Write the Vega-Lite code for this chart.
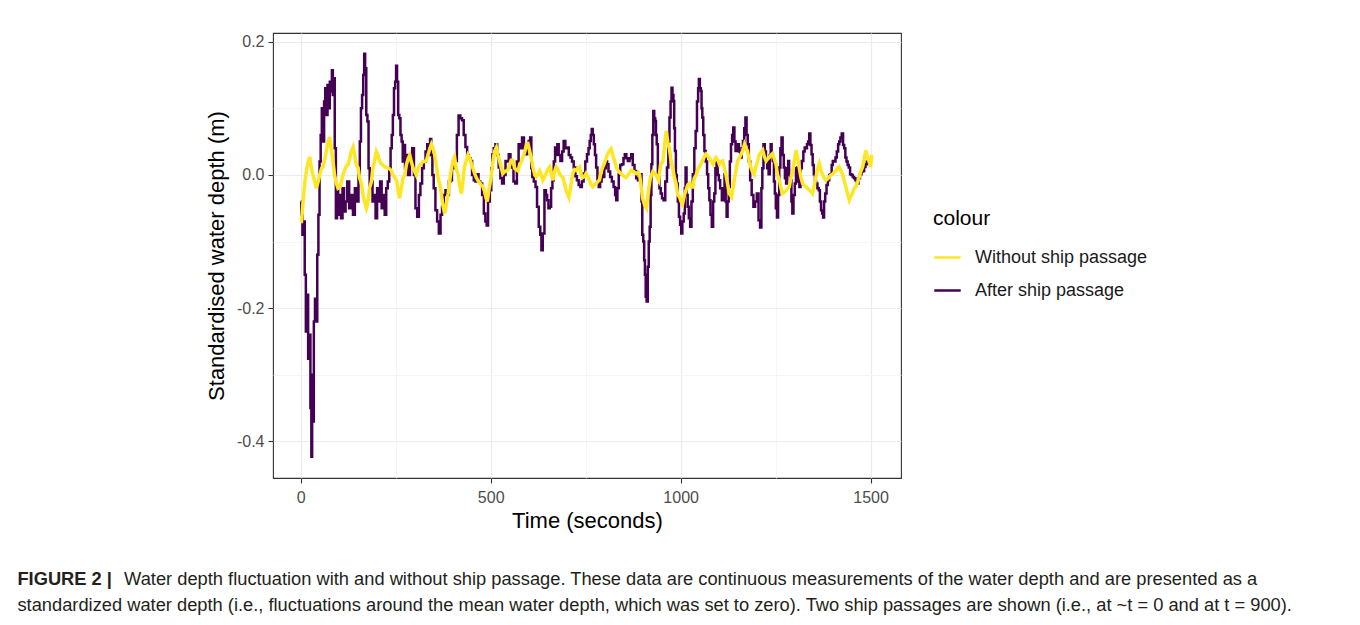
{
  "$schema": "https://vega.github.io/schema/vega-lite/v6.json",
  "width": 628,
  "height": 445,
  "padding": {"left": 17, "top": 33, "right": 10, "bottom": 5},
  "background": "#ffffff",
  "title": {
    "text": "FIGURE 2 |",
    "subtitle": [
      "\u200b\u00a0\u00a0\u00a0\u00a0\u00a0\u00a0\u00a0\u00a0\u00a0\u00a0\u00a0\u00a0\u00a0\u00a0\u00a0\u00a0\u00a0\u00a0\u00a0\u00a0\u00a0Water depth fluctuation with and without ship passage. These data are continuous measurements of the water depth and are presented as a",
      "standardized water depth (i.e., fluctuations around the mean water depth, which was set to zero). Two ship passages are shown (i.e., at ~t = 0 and at t = 900)."
    ],
    "orient": "bottom",
    "anchor": "start",
    "frame": "bounds",
    "dx": -188,
    "offset": 40,
    "font": "Liberation Sans",
    "fontSize": 18.3,
    "fontWeight": "bold",
    "color": "#231F20",
    "subtitleFont": "Liberation Sans",
    "subtitleFontSize": 18.3,
    "subtitleFontWeight": "normal",
    "subtitleColor": "#231F20",
    "subtitlePadding": -18.3,
    "subtitleLineHeight": 26
  },
  "datasets": {
    "after": [
      {"t":0,"v":-0.04},{"t":3,"v":-0.06},{"t":6,"v":-0.09},{"t":9,"v":-0.07},{"t":12,"v":-0.15},{"t":15,"v":-0.235},{"t":18,"v":-0.18},{"t":21,"v":-0.276},{"t":24,"v":-0.24},{"t":27,"v":-0.35},{"t":29,"v":-0.423},{"t":31,"v":-0.3},{"t":33,"v":-0.37},{"t":36,"v":-0.22},{"t":39,"v":-0.186},{"t":42,"v":-0.22},{"t":45,"v":-0.12},{"t":48,"v":-0.06},{"t":51,"v":0.02},{"t":54,"v":0.06},{"t":57,"v":0.1},{"t":60,"v":0.05},{"t":63,"v":0.11},{"t":66,"v":0.13},{"t":69,"v":0.09},{"t":72,"v":0.135},{"t":75,"v":0.1},{"t":78,"v":0.14},{"t":81,"v":0.125},{"t":83,"v":0.157},{"t":86,"v":0.12},{"t":88,"v":0.145},{"t":91,"v":0.04},{"t":94,"v":-0.065},{"t":97,"v":-0.02},{"t":100,"v":-0.06},{"t":104,"v":-0.03},{"t":108,"v":-0.065},{"t":112,"v":-0.02},{"t":116,"v":-0.055},{"t":120,"v":-0.04},{"t":125,"v":-0.01},{"t":130,"v":-0.05},{"t":135,"v":-0.03},{"t":140,"v":-0.06},{"t":145,"v":-0.02},{"t":150,"v":-0.04},{"t":154,"v":0},{"t":157,"v":0.05},{"t":160,"v":0.1},{"t":163,"v":0.12},{"t":166,"v":0.15},{"t":168,"v":0.182},{"t":171,"v":0.16},{"t":174,"v":0.09},{"t":177,"v":0.08},{"t":180,"v":0.01},{"t":183,"v":-0.02},{"t":187,"v":-0.01},{"t":191,"v":-0.04},{"t":195,"v":-0.03},{"t":199,"v":-0.065},{"t":203,"v":-0.02},{"t":207,"v":-0.04},{"t":211,"v":-0.01},{"t":215,"v":-0.05},{"t":219,"v":-0.03},{"t":223,"v":-0.06},{"t":227,"v":-0.02},{"t":231,"v":-0.01},{"t":235,"v":0.01},{"t":238,"v":0.04},{"t":241,"v":0.06},{"t":244,"v":0.09},{"t":247,"v":0.13},{"t":250,"v":0.14},{"t":252,"v":0.164},{"t":255,"v":0.14},{"t":258,"v":0.09},{"t":261,"v":0.085},{"t":264,"v":0.06},{"t":267,"v":0.05},{"t":270,"v":0.02},{"t":273,"v":0.045},{"t":276,"v":0.01},{"t":280,"v":0.03},{"t":284,"v":0},
      {"t":291,"v":0.02},{"t":296,"v":0.04},{"t":300,"v":0},{"t":304,"v":-0.05},{"t":309,"v":-0.063},{"t":313,"v":-0.03},{"t":317,"v":-0.013},{"t":322,"v":0.01},{"t":326,"v":0.02},{"t":331,"v":0.035},{"t":335,"v":0.046},{"t":339,"v":0.03},{"t":342,"v":0.054},{"t":345,"v":0.03},{"t":348,"v":0},{"t":352,"v":-0.02},{"t":357,"v":-0.053},{"t":361,"v":-0.07},{"t":366,"v":-0.088},{"t":370,"v":-0.06},{"t":374,"v":-0.048},{"t":379,"v":-0.03},{"t":383,"v":-0.023},{"t":388,"v":-0.03},{"t":392,"v":-0.01},{"t":396,"v":-0.008},{"t":400,"v":0.01},{"t":405,"v":0.02},{"t":409,"v":0.021},{"t":413,"v":0.06},{"t":418,"v":0.089},{"t":422,"v":0.085},{"t":427,"v":0.082},{"t":431,"v":0.06},{"t":436,"v":0.042},{"t":440,"v":0.03},{"t":445,"v":0.025},{"t":449,"v":0.021},{"t":453,"v":0},{"t":458,"v":-0.008},{"t":462,"v":-0.01},{"t":466,"v":0.001},{"t":470,"v":-0.01},{"t":475,"v":-0.013},{"t":480,"v":-0.03},{"t":484,"v":-0.058},{"t":488,"v":-0.07},{"t":491,"v":-0.076},{"t":495,"v":-0.04},{"t":500,"v":-0.023},{"t":503,"v":0.01},{"t":506,"v":0.031},{"t":510,"v":0.04},{"t":515,"v":0.046},{"t":519,"v":0.03},{"t":523,"v":0.011},{"t":528,"v":-0.005},{"t":532,"v":-0.013},{"t":537,"v":0},{"t":541,"v":0.021},{"t":545,"v":0.02},{"t":550,"v":0.031},{"t":554,"v":0.02},{"t":558,"v":0.011},{"t":562,"v":-0.01},{"t":567,"v":-0.013},{"t":571,"v":0.02},{"t":576,"v":0.046},{"t":580,"v":0.04},{"t":585,"v":0.056},{"t":590,"v":0.04},{"t":594,"v":0.031},{"t":598,"v":0.04},{"t":602,"v":0.051},
      {"t":606,"v":0.056},{"t":608,"v":0.01},{"t":611,"v":-0.003},{"t":616,"v":-0.01},{"t":620,"v":-0.018},{"t":624,"v":-0.048},{"t":629,"v":-0.078},{"t":632,"v":-0.09},{"t":635,"v":-0.113},{"t":639,"v":-0.088},{"t":644,"v":-0.023},{"t":647,"v":-0.03},{"t":650,"v":-0.038},{"t":654,"v":-0.05},{"t":657,"v":-0.048},{"t":661,"v":-0.02},{"t":664,"v":-0.008},{"t":668,"v":0.02},{"t":671,"v":0.041},{"t":674,"v":0.03},{"t":677,"v":0.046},{"t":681,"v":0.03},{"t":686,"v":0.021},{"t":690,"v":0.035},{"t":694,"v":0.051},{"t":699,"v":0.04},{"t":703,"v":0.041},{"t":708,"v":0.03},{"t":712,"v":0.026},{"t":716,"v":0.02},{"t":721,"v":0.011},{"t":725,"v":-0.002},{"t":729,"v":-0.008},{"t":734,"v":-0.015},{"t":738,"v":-0.018},{"t":742,"v":-0.01},{"t":747,"v":0.002},{"t":751,"v":0.02},{"t":756,"v":0.031},{"t":759,"v":0.04},{"t":762,"v":0.051},{"t":765,"v":0.06},{"t":767,"v":0.069},{"t":770,"v":0.06},{"t":773,"v":0.046},{"t":776,"v":0.03},{"t":779,"v":0.011},{"t":783,"v":-0.01},{"t":786,"v":-0.018},{"t":790,"v":-0.01},{"t":794,"v":0},{"t":797,"v":-0.003},{"t":801,"v":0.01},{"t":805,"v":0.02},{"t":808,"v":0.016},{"t":812,"v":0.005},{"t":817,"v":-0.003},{"t":821,"v":-0.01},{"t":826,"v":-0.018},{"t":829,"v":-0.03},{"t":832,"v":-0.038},{"t":835,"v":-0.02},{"t":839,"v":0.001},{"t":843,"v":0.015},{"t":848,"v":0.016},{"t":851,"v":0.025},{"t":855,"v":0.031},{"t":859,"v":0.025},{"t":863,"v":0.021},{"t":868,"v":0.025},{"t":872,"v":0.031},{"t":876,"v":0.015},{"t":881,"v":0.006},{"t":885,"v":-0.005},{"t":890,"v":-0.008},{"t":893,"v":0},{"t":896,"v":0.001},
      {"t":898,"v":-0.04},{"t":900,"v":-0.09},{"t":903,"v":-0.1},{"t":905,"v":-0.128},{"t":907,"v":-0.15},{"t":909,"v":-0.183},{"t":912,"v":-0.19},{"t":915,"v":-0.138},{"t":917,"v":-0.1},{"t":920,"v":-0.078},{"t":922,"v":-0.03},{"t":924,"v":0.016},{"t":927,"v":0.06},{"t":929,"v":0.096},{"t":932,"v":0.085},{"t":934,"v":0.081},{"t":936,"v":0.06},{"t":938,"v":0.046},{"t":942,"v":0.002},{"t":946,"v":-0.02},{"t":949,"v":-0.028},{"t":953,"v":-0.035},{"t":957,"v":-0.038},{"t":962,"v":-0.01},{"t":966,"v":0.011},{"t":969,"v":0.05},{"t":972,"v":0.086},{"t":975,"v":0.11},{"t":977,"v":0.131},{"t":980,"v":0.12},{"t":982,"v":0.111},{"t":984,"v":0.07},{"t":986,"v":0.036},{"t":989,"v":0},{"t":991,"v":-0.013},{"t":994,"v":-0.04},{"t":997,"v":-0.063},{"t":1000,"v":-0.075},{"t":1003,"v":-0.088},{"t":1006,"v":-0.07},{"t":1010,"v":-0.058},{"t":1012,"v":-0.02},{"t":1014,"v":0.011},{"t":1017,"v":-0.03},{"t":1020,"v":-0.048},{"t":1023,"v":-0.065},{"t":1027,"v":-0.078},{"t":1030,"v":-0.04},{"t":1034,"v":0.001},{"t":1038,"v":0.04},{"t":1041,"v":0.066},{"t":1045,"v":0.11},{"t":1047,"v":0.13},{"t":1049,"v":0.144},{"t":1052,"v":0.13},{"t":1054,"v":0.126},{"t":1056,"v":0.1},{"t":1058,"v":0.086},{"t":1061,"v":0.06},{"t":1064,"v":0.036},{"t":1068,"v":0.02},{"t":1071,"v":0.001},{"t":1074,"v":-0.02},{"t":1077,"v":-0.038},{"t":1080,"v":-0.06},{"t":1084,"v":-0.078},{"t":1087,"v":-0.04},{"t":1090,"v":-0.028},{"t":1093,"v":0.01},{"t":1096,"v":0.021},{"t":1099,"v":0},{"t":1102,"v":-0.008},{"t":1106,"v":-0.02},{"t":1111,"v":-0.038},{"t":1114,"v":-0.02},{"t":1117,"v":0.001},{"t":1120,"v":-0.04},{"t":1122,"v":-0.063},{"t":1125,"v":-0.04},{"t":1128,"v":-0.018},{"t":1131,"v":0.02},{"t":1134,"v":0.046},{"t":1137,"v":0.06},{"t":1140,"v":0.071},{"t":1143,"v":0.05},{"t":1146,"v":0.036},{"t":1149,"v":0.04},{"t":1152,"v":0.046},{"t":1155,"v":0.035},{"t":1159,"v":0.026},{"t":1162,"v":0.04},{"t":1166,"v":0.051},{"t":1169,"v":0.07},{"t":1172,"v":0.086},{"t":1175,"v":0.06},{"t":1178,"v":0.046},{"t":1181,"v":0.02},{"t":1185,"v":-0.008},{"t":1189,"v":-0.03},{"t":1194,"v":-0.048},{"t":1198,"v":-0.04},{"t":1203,"v":-0.028},{"t":1207,"v":-0.068},{"t":1211,"v":-0.079},{"t":1214,"v":-0.02},{"t":1216,"v":0.01},{"t":1220,"v":0.046},{"t":1223,"v":0.035},{"t":1226,"v":0.021},{"t":1230,"v":0.01},{"t":1233,"v":0.001},{"t":1236,"v":0.03},{"t":1238,"v":0.046},{"t":1241,"v":0.03},{"t":1244,"v":0.021},{"t":1247,"v":-0.01},{"t":1249,"v":-0.028},{"t":1252,"v":-0.05},{"t":1255,"v":-0.064},{"t":1258,"v":-0.03},{"t":1261,"v":0.011},{"t":1264,"v":0.04},{"t":1267,"v":0.056},{"t":1270,"v":0.03},{"t":1273,"v":0.011},{"t":1276,"v":-0.005},{"t":1279,"v":-0.013},{"t":1282,"v":0.01},{"t":1284,"v":0.021},{"t":1287,"v":0},{"t":1290,"v":-0.008},{"t":1293,"v":-0.04},{"t":1295,"v":-0.058},{"t":1299,"v":-0.03},{"t":1302,"v":-0.013},{"t":1305,"v":0.01},{"t":1308,"v":0.011},{"t":1311,"v":-0.01},{"t":1314,"v":-0.018},{"t":1317,"v":0.01},{"t":1321,"v":0.021},{"t":1325,"v":0.035},{"t":1328,"v":0.041},{"t":1331,"v":0.04},{"t":1334,"v":0.046},{"t":1337,"v":0.05},{"t":1340,"v":0.062},{"t":1343,"v":0.045},{"t":1346,"v":0.031},{"t":1349,"v":0.015},{"t":1352,"v":0.001},{"t":1355,"v":-0.01},{"t":1358,"v":-0.013},{"t":1362,"v":-0.02},{"t":1365,"v":-0.023},{"t":1368,"v":-0.04},{"t":1371,"v":-0.053},{"t":1374,"v":-0.058},{"t":1376,"v":-0.064},{"t":1379,"v":-0.04},{"t":1382,"v":-0.028},{"t":1386,"v":-0.015},{"t":1389,"v":-0.008},{"t":1393,"v":0},{"t":1396,"v":0.001},{"t":1399,"v":0.015},{"t":1402,"v":0.021},{"t":1406,"v":0.02},{"t":1409,"v":0.026},{"t":1413,"v":0.035},{"t":1416,"v":0.046},{"t":1419,"v":0.05},{"t":1422,"v":0.056},{"t":1426,"v":0.062},{"t":1429,"v":0.045},{"t":1432,"v":0.04},{"t":1435,"v":0.026},{"t":1438,"v":0.02},{"t":1441,"v":0.015},{"t":1444,"v":0.011},{"t":1448,"v":0.001},{"t":1451,"v":0},{"t":1455,"v":-0.003},{"t":1458,"v":-0.005},{"t":1462,"v":-0.008},{"t":1466,"v":-0.013},{"t":1470,"v":-0.005},{"t":1474,"v":0.001},{"t":1478,"v":0.005},{"t":1481,"v":0.006},{"t":1485,"v":0.012},{"t":1488,"v":0.016},{"t":1492,"v":0.02},{"t":1496,"v":0.021},{"t":1500,"v":0.016}
    ],
    "without": [
      {"t":0,"v":-0.07},{"t":2,"v":-0.07},{"t":6,"v":-0.04},{"t":11,"v":-0.01},{"t":16,"v":0.01},{"t":20,"v":0.02},{"t":24,"v":0.027},{"t":28,"v":0.01},{"t":32,"v":0},{"t":37,"v":-0.01},{"t":41,"v":-0.02},{"t":46,"v":-0.01},{"t":50,"v":0},{"t":55,"v":0.01},{"t":59,"v":0.012},{"t":64,"v":0.025},{"t":68,"v":0.037},{"t":72,"v":0.05},{"t":76,"v":0.057},{"t":80,"v":0.04},{"t":85,"v":0.02},{"t":89,"v":0},{"t":94,"v":-0.013},{"t":98,"v":-0.02},{"t":103,"v":-0.018},{"t":107,"v":-0.01},{"t":111,"v":0},{"t":116,"v":0.008},{"t":120,"v":0.013},{"t":125,"v":0.016},{"t":129,"v":0.025},{"t":133,"v":0.035},{"t":138,"v":0.042},{"t":142,"v":0.03},{"t":146,"v":0.015},{"t":151,"v":0.011},{"t":155,"v":-0.005},{"t":160,"v":-0.014},{"t":164,"v":-0.03},{"t":168,"v":-0.04},{"t":173,"v":-0.05},{"t":177,"v":-0.041},{"t":181,"v":-0.02},{"t":186,"v":-0.01},{"t":190,"v":0.01},{"t":194,"v":0.02},{"t":199,"v":0.035},{"t":203,"v":0.03},{"t":208,"v":0.02},{"t":212,"v":0.017},{"t":216,"v":0.015},{"t":221,"v":0.012},{"t":225,"v":0.012},{"t":230,"v":0.01},{"t":234,"v":0.009},{"t":239,"v":0.006},{"t":243,"v":0},{"t":248,"v":-0.005},{"t":252,"v":-0.008},{"t":256,"v":-0.02},{"t":260,"v":-0.035},{"t":265,"v":-0.02},{"t":269,"v":-0.005},{"t":274,"v":0},{"t":278,"v":0.015},{"t":283,"v":0.025},{"t":287,"v":0.03},{"t":291,"v":0.02},
      {"t":296,"v":0.01},{"t":300,"v":0.005},{"t":304,"v":0},{"t":309,"v":0.01},{"t":313,"v":0.014},{"t":317,"v":0.017},{"t":322,"v":0.02},{"t":326,"v":0.02},{"t":331,"v":0.022},{"t":335,"v":0.03},{"t":340,"v":0.04},{"t":344,"v":0.046},{"t":348,"v":0.04},{"t":352,"v":0.032},{"t":357,"v":0.015},{"t":361,"v":-0.003},{"t":366,"v":-0.015},{"t":370,"v":-0.028},{"t":374,"v":-0.045},{"t":379,"v":-0.058},{"t":383,"v":-0.045},{"t":388,"v":-0.028},{"t":392,"v":-0.01},{"t":396,"v":0.007},{"t":400,"v":0.02},{"t":405,"v":0.027},{"t":409,"v":0.01},{"t":414,"v":0.002},{"t":418,"v":-0.015},{"t":423,"v":-0.028},{"t":427,"v":-0.01},{"t":431,"v":0.012},{"t":436,"v":0.022},{"t":440,"v":0.03},{"t":445,"v":0.025},{"t":449,"v":0.017},{"t":453,"v":0.01},{"t":458,"v":0.002},{"t":462,"v":-0.004},{"t":466,"v":-0.008},{"t":471,"v":-0.012},{"t":475,"v":-0.015},{"t":480,"v":-0.018},{"t":484,"v":-0.025},{"t":488,"v":-0.035},{"t":491,"v":-0.04},{"t":496,"v":-0.02},{"t":501,"v":-0.004},{"t":506,"v":0.02},{"t":510,"v":0.035},{"t":515,"v":0.041},{"t":519,"v":0.03},{"t":523,"v":0.022},{"t":528,"v":0.01},{"t":532,"v":0.002},{"t":537,"v":0.005},{"t":541,"v":0.006},{"t":545,"v":0.007},{"t":550,"v":0.015},{"t":554,"v":0.022},{"t":558,"v":0.022},{"t":563,"v":0.01},{"t":567,"v":0.008},{"t":572,"v":0.006},{"t":576,"v":0.015},{"t":581,"v":0.02},{"t":585,"v":0.027},{"t":590,"v":0.035},{"t":594,"v":0.046},{"t":598,"v":0.047},
      {"t":602,"v":0.037},{"t":607,"v":0.025},{"t":611,"v":0.012},{"t":616,"v":0},{"t":620,"v":-0.003},{"t":624,"v":0},{"t":629,"v":0.006},{"t":633,"v":0},{"t":637,"v":-0.008},{"t":642,"v":-0.003},{"t":646,"v":0.002},{"t":650,"v":0.008},{"t":655,"v":0.012},{"t":659,"v":0.002},{"t":664,"v":-0.008},{"t":668,"v":0.005},{"t":672,"v":0.012},{"t":677,"v":0.008},{"t":681,"v":0.002},{"t":686,"v":-0.002},{"t":690,"v":-0.004},{"t":694,"v":-0.012},{"t":699,"v":-0.024},{"t":703,"v":-0.03},{"t":706,"v":-0.034},{"t":710,"v":-0.02},{"t":716,"v":0.002},{"t":721,"v":0.008},{"t":725,"v":0.007},{"t":729,"v":0.01},{"t":734,"v":0.012},{"t":738,"v":0},{"t":742,"v":-0.004},{"t":747,"v":-0.002},{"t":751,"v":0.002},{"t":756,"v":-0.003},{"t":760,"v":-0.008},{"t":764,"v":-0.015},{"t":769,"v":-0.018},{"t":773,"v":-0.015},{"t":778,"v":-0.013},{"t":782,"v":-0.01},{"t":786,"v":-0.008},{"t":791,"v":0.005},{"t":795,"v":0.012},{"t":799,"v":0.017},{"t":804,"v":0.025},{"t":808,"v":0.032},{"t":813,"v":0.036},{"t":817,"v":0.039},{"t":822,"v":0.028},{"t":826,"v":0.022},{"t":830,"v":0.012},{"t":835,"v":0.007},{"t":839,"v":0.004},{"t":843,"v":0.002},{"t":850,"v":-0.002},{"t":856,"v":-0.004},{"t":863,"v":0.001},{"t":870,"v":0.007},{"t":876,"v":0.005},{"t":883,"v":0.002},{"t":888,"v":0.004},{"t":892,"v":0},{"t":900,"v":-0.035},{"t":905,"v":-0.045},{"t":910,"v":-0.05},{"t":915,"v":-0.025},{"t":920,"v":-0.005},{"t":927,"v":0.005},{"t":935,"v":0},{"t":942,"v":-0.008},{"t":947,"v":0.015},{"t":953,"v":0.02},{"t":958,"v":0.045},{"t":962,"v":0.066},{"t":966,"v":0.05},{"t":970,"v":0.04},{"t":975,"v":0.02},{"t":979,"v":0.01},{"t":984,"v":-0.005},{"t":988,"v":-0.013},{"t":992,"v":-0.03},{"t":997,"v":-0.033},{"t":1001,"v":-0.04},{"t":1005,"v":-0.044},{"t":1010,"v":-0.03},{"t":1014,"v":-0.023},{"t":1019,"v":-0.015},{"t":1023,"v":-0.013},{"t":1028,"v":-0.018},{"t":1032,"v":-0.018},{"t":1036,"v":-0.005},{"t":1041,"v":0},{"t":1045,"v":0.008},{"t":1049,"v":0.012},{"t":1054,"v":0.017},{"t":1058,"v":0.022},{"t":1063,"v":0.028},{"t":1067,"v":0.031},{"t":1071,"v":0.028},{"t":1076,"v":0.026},{"t":1080,"v":0.02},{"t":1085,"v":0.016},{"t":1089,"v":0.022},{"t":1093,"v":0.026},{"t":1098,"v":0.022},{"t":1102,"v":0.016},{"t":1107,"v":0.02},{"t":1111,"v":0.021},{"t":1115,"v":0.01},{"t":1119,"v":0.001},{"t":1124,"v":-0.015},{"t":1128,"v":-0.028},{"t":1134,"v":-0.033},{"t":1138,"v":-0.02},{"t":1141,"v":-0.008},{"t":1146,"v":0.008},{"t":1150,"v":0.021},{"t":1155,"v":0.026},{"t":1159,"v":0.031},{"t":1163,"v":0.036},{"t":1168,"v":0.046},{"t":1172,"v":0.04},{"t":1176,"v":0.036},{"t":1181,"v":0.02},{"t":1185,"v":0.011},{"t":1189,"v":0.005},{"t":1194,"v":0.001},{"t":1198,"v":0.012},{"t":1203,"v":0.021},
      {"t":1207,"v":0.031},{"t":1212,"v":0.034},{"t":1216,"v":0.037},{"t":1220,"v":0.028},{"t":1225,"v":0.021},{"t":1229,"v":0.024},{"t":1233,"v":0.026},{"t":1238,"v":0.03},{"t":1242,"v":0.032},{"t":1246,"v":0.025},{"t":1251,"v":0.016},{"t":1255,"v":0},{"t":1260,"v":-0.008},{"t":1264,"v":-0.02},{"t":1268,"v":-0.028},{"t":1273,"v":-0.026},{"t":1277,"v":-0.024},{"t":1282,"v":-0.02},{"t":1286,"v":-0.018},{"t":1290,"v":-0.005},{"t":1295,"v":0.006},{"t":1299,"v":0.02},{"t":1304,"v":0.037},{"t":1308,"v":0.025},{"t":1312,"v":0.011},{"t":1317,"v":-0.005},{"t":1321,"v":-0.013},{"t":1326,"v":-0.016},{"t":1330,"v":-0.018},{"t":1334,"v":-0.02},{"t":1339,"v":-0.023},{"t":1343,"v":-0.025},{"t":1347,"v":-0.028},{"t":1352,"v":-0.015},{"t":1356,"v":-0.003},{"t":1361,"v":0.01},{"t":1365,"v":0.017},{"t":1369,"v":0.008},{"t":1374,"v":0},{"t":1378,"v":-0.005},{"t":1382,"v":-0.008},{"t":1387,"v":-0.006},{"t":1391,"v":-0.003},{"t":1396,"v":0},{"t":1400,"v":0.001},{"t":1404,"v":0.004},{"t":1409,"v":0.006},{"t":1413,"v":0.01},{"t":1417,"v":0.012},{"t":1422,"v":0.006},{"t":1426,"v":0.001},{"t":1431,"v":-0.01},{"t":1435,"v":-0.018},{"t":1440,"v":-0.03},{"t":1444,"v":-0.038},{"t":1448,"v":-0.032},{"t":1452,"v":-0.028},{"t":1457,"v":-0.02},{"t":1461,"v":-0.018},{"t":1466,"v":-0.01},{"t":1470,"v":-0.003},{"t":1474,"v":0.005},{"t":1479,"v":0.012},{"t":1483,"v":0.025},{"t":1488,"v":0.037},{"t":1492,"v":0.025},{"t":1496,"v":0.02},{"t":1500,"v":0.012},{"t":1503,"v":0.03}
    ]
  },
  "encoding": {
    "x": {
      "field": "t",
      "type": "quantitative",
      "scale": {"domain": [-73, 1580], "nice": false, "zero": false},
      "axis": {
        "title": "Time (seconds)",
        "values": [0, 250, 500, 750, 1000, 1250, 1500],
        "format": "d",
        "labelPadding": 6,
        "titlePadding": 5,
        "labelExpr": "datum.value % 500 == 0 ? datum.label : ''",
        "gridColor": {"condition": {"test": "datum.value % 500 != 0", "value": "#F2F2F2"}, "value": "#EBEBEB"},
        "gridWidth": {"condition": {"test": "datum.value % 500 != 0", "value": 0.8}, "value": 1.2},
        "tickOpacity": {"condition": {"test": "datum.value % 500 != 0", "value": 0}, "value": 1}
      }
    },
    "y": {
      "field": "v",
      "type": "quantitative",
      "scale": {"domain": [-0.455, 0.213], "nice": false, "zero": false},
      "axis": {
        "title": "Standardised water depth (m)",
        "titlePadding": 8,
        "values": [-0.4, -0.3, -0.2, -0.1, 0, 0.1, 0.2],
        "labelExpr": "round(datum.value*10) % 2 != 0 ? '' : replace(format(datum.value, '.1f'), '\u2212', '-')",
        "gridColor": {"condition": {"test": "round(datum.value*10) % 2 != 0", "value": "#F2F2F2"}, "value": "#EBEBEB"},
        "gridWidth": {"condition": {"test": "round(datum.value*10) % 2 != 0", "value": 0.8}, "value": 1.2},
        "tickOpacity": {"condition": {"test": "round(datum.value*10) % 2 != 0", "value": 0}, "value": 1}
      }
    }
  },
  "layer": [
    {
      "data": {"name": "after"},
      "mark": {"type": "line", "strokeWidth": 2.5, "interpolate": "step"},
      "encoding": {
        "color": {
          "datum": "After ship passage",
          "type": "nominal",
          "scale": {"domain": ["Without ship passage", "After ship passage"], "range": ["#FDE725", "#440154"]},
          "legend": {"title": "colour"}
        }
      }
    },
    {
      "data": {"name": "without"},
      "mark": {"type": "line", "strokeWidth": 3.5},
      "encoding": {
        "color": {"datum": "Without ship passage", "type": "nominal"}
      }
    }
  ],
  "config": {
    "font": "Liberation Sans",
    "view": {"stroke": "#333333", "strokeWidth": 1.1},
    "axis": {
      "domain": false,
      "grid": true,
      "ticks": true,
      "tickColor": "#333333",
      "tickSize": 5,
      "tickWidth": 1.1,
      "labelFontSize": 16,
      "labelColor": "#4D4D4D",
      "labelPadding": 4,
      "titleFontSize": 22,
      "titleFontWeight": "normal",
      "titleColor": "#000000",
      "titlePadding": 6
    },
    "legend": {
      "orient": "none",
      "legendX": 660,
      "legendY": 175,
      "titleFontSize": 21,
      "titleFontWeight": "normal",
      "titleColor": "#000000",
      "titlePadding": 14,
      "labelFontSize": 18,
      "labelLimit": 400,
      "labelColor": "#1a1a1a",
      "symbolType": "stroke",
      "symbolStrokeWidth": 2.5,
      "symbolSize": 700,
      "rowPadding": 9,
      "labelOffset": 13
    }
  }
}
